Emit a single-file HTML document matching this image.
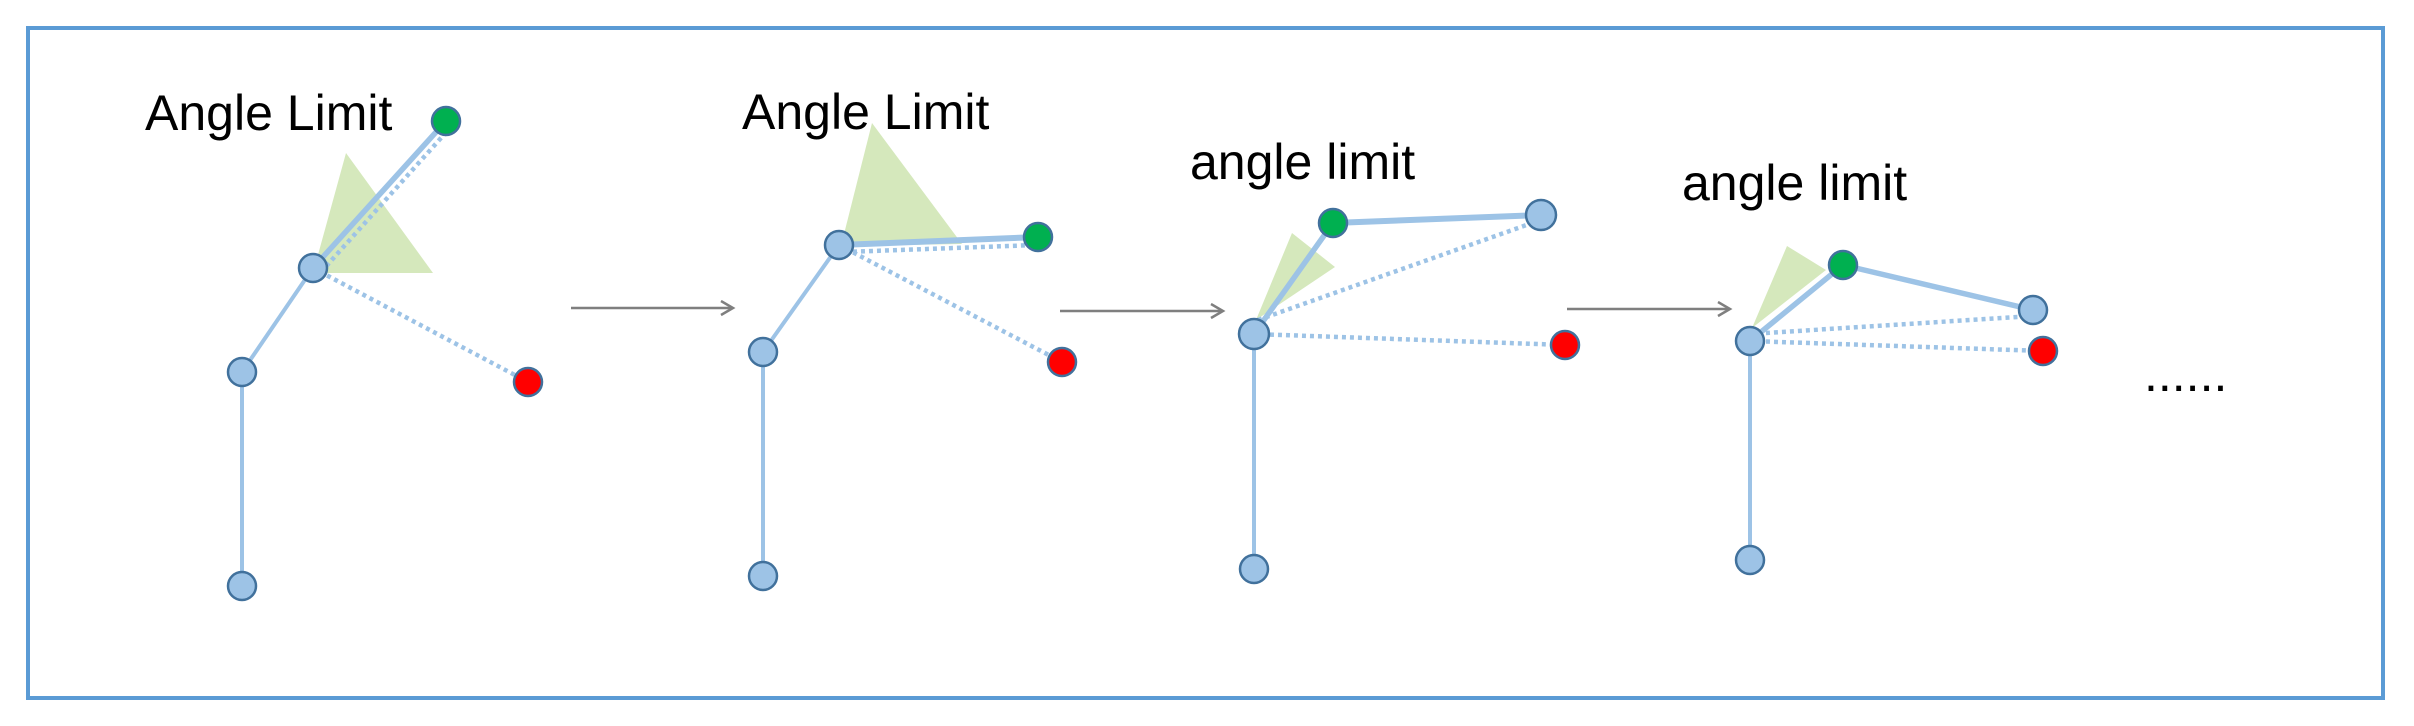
<!DOCTYPE html>
<html><head><meta charset="utf-8"><style>
html,body{margin:0;padding:0;background:#fff;}
svg{display:block;}
text{font-family:"Liberation Sans",Arial,sans-serif;fill:#000;}
</style></head><body>
<svg width="2414" height="726" viewBox="0 0 2414 726" xmlns="http://www.w3.org/2000/svg">
<rect x="28" y="28" width="2355" height="670" fill="#fff" stroke="#5b9bd5" stroke-width="4"/>
<defs>
<marker id="ah" markerWidth="20" markerHeight="20" refX="14" refY="8" orient="auto" markerUnits="userSpaceOnUse">
<path d="M2,1 L14,8 L2,15" fill="none" stroke="#7f7f7f" stroke-width="2.5"/>
</marker>
</defs>
<g fill="none" stroke="#9dc3e6">
<!-- fig1 -->
<polygon points="346,153 433,273 313,273" fill="#d5e8bc" stroke="none"/>
<line x1="242" y1="586" x2="242" y2="372" stroke-width="4"/>
<line x1="242" y1="372" x2="313" y2="268" stroke-width="4"/>
<line x1="313" y1="268" x2="446" y2="121" stroke-width="5.5"/>
<line x1="321" y1="272" x2="450" y2="128" stroke-width="4.5" stroke-dasharray="4 4"/>
<line x1="313" y1="268" x2="528" y2="382" stroke-width="4.5" stroke-dasharray="4 4"/>
<!-- fig2 -->
<polygon points="872,123 962,244 841,246" fill="#d5e8bc" stroke="none"/>
<line x1="763" y1="576" x2="763" y2="352" stroke-width="4"/>
<line x1="763" y1="352" x2="839" y2="245" stroke-width="4"/>
<line x1="839" y1="245" x2="1038" y2="237" stroke-width="6"/>
<line x1="845" y1="252" x2="1036" y2="245" stroke-width="4.5" stroke-dasharray="4 4"/>
<line x1="839" y1="245" x2="1062" y2="362" stroke-width="4.5" stroke-dasharray="4 4"/>
<!-- fig3 -->
<polygon points="1292,233 1335,267 1256,320" fill="#d5e8bc" stroke="none"/>
<line x1="1254" y1="569" x2="1254" y2="334" stroke-width="4"/>
<line x1="1254" y1="334" x2="1333" y2="223" stroke-width="5.5"/>
<line x1="1333" y1="223" x2="1541" y2="215" stroke-width="6"/>
<line x1="1258" y1="320" x2="1535" y2="222" stroke-width="4.5" stroke-dasharray="4 4"/>
<line x1="1254" y1="334" x2="1565" y2="345" stroke-width="4.5" stroke-dasharray="4 4"/>
<!-- fig4 -->
<polygon points="1787,246 1826,270 1752,328" fill="#d5e8bc" stroke="none"/>
<line x1="1750" y1="560" x2="1750" y2="341" stroke-width="4"/>
<line x1="1750" y1="341" x2="1843" y2="265" stroke-width="5.5"/>
<line x1="1843" y1="265" x2="2033" y2="310" stroke-width="5.5"/>
<line x1="1750" y1="334" x2="2033" y2="316" stroke-width="4.5" stroke-dasharray="4 4"/>
<line x1="1750" y1="341" x2="2043" y2="351" stroke-width="4.5" stroke-dasharray="4 4"/>
</g>
<g stroke="#7f7f7f" stroke-width="2.5" fill="none">
<line x1="571" y1="308" x2="733" y2="308" marker-end="url(#ah)"/>
<line x1="1060" y1="311" x2="1223" y2="311" marker-end="url(#ah)"/>
<line x1="1567" y1="309" x2="1730" y2="309" marker-end="url(#ah)"/>
</g>
<g stroke="#41719c" stroke-width="2.5">
<circle cx="242" cy="586" r="14" fill="#9dc3e6"/>
<circle cx="242" cy="372" r="14" fill="#9dc3e6"/>
<circle cx="313" cy="268" r="14" fill="#9dc3e6"/>
<circle cx="446" cy="121" r="14" fill="#00b050"/>
<circle cx="528" cy="382" r="14" fill="#ff0000"/>

<circle cx="763" cy="576" r="14" fill="#9dc3e6"/>
<circle cx="763" cy="352" r="14" fill="#9dc3e6"/>
<circle cx="839" cy="245" r="14" fill="#9dc3e6"/>
<circle cx="1038" cy="237" r="14" fill="#00b050"/>
<circle cx="1062" cy="362" r="14" fill="#ff0000"/>

<circle cx="1254" cy="569" r="14" fill="#9dc3e6"/>
<circle cx="1254" cy="334" r="15" fill="#9dc3e6"/>
<circle cx="1333" cy="223" r="14" fill="#00b050"/>
<circle cx="1541" cy="215" r="15" fill="#9dc3e6"/>
<circle cx="1565" cy="345" r="14" fill="#ff0000"/>

<circle cx="1750" cy="560" r="14" fill="#9dc3e6"/>
<circle cx="1750" cy="341" r="14" fill="#9dc3e6"/>
<circle cx="1843" cy="265" r="14" fill="#00b050"/>
<circle cx="2033" cy="310" r="14" fill="#9dc3e6"/>
<circle cx="2043" cy="351" r="14" fill="#ff0000"/>
</g>
<text x="145" y="130" font-size="50">Angle Limit</text>
<text x="742" y="129" font-size="50">Angle Limit</text>
<text x="1190" y="179" font-size="50">angle limit</text>
<text x="1682" y="200" font-size="50">angle limit</text>
<text x="2144" y="391" font-size="50">......</text>
</svg>
</body></html>
